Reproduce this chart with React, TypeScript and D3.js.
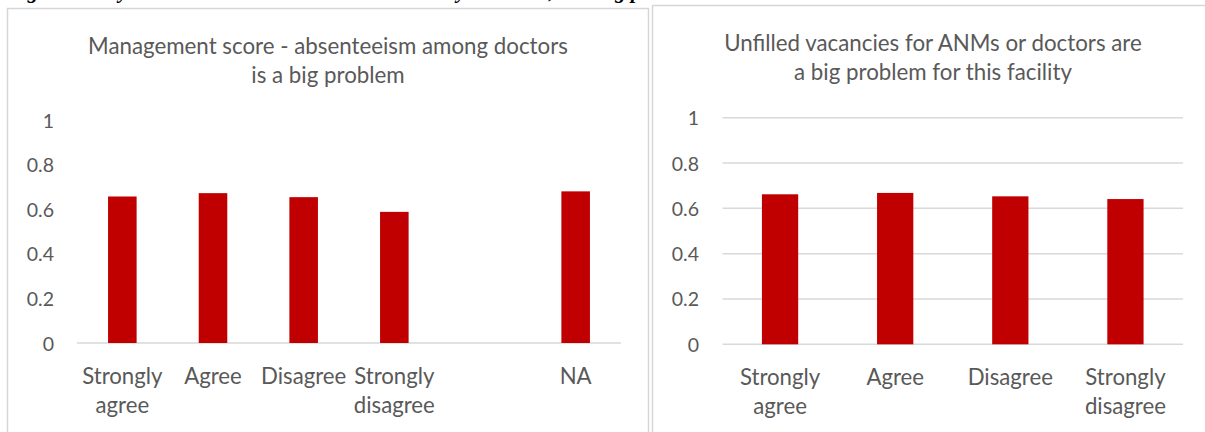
import React from "react";
import * as d3 from "d3";

// Left panel: management score by response on doctor absenteeism
const absCategories = ["Strongly agree", "Agree", "Disagree", "Strongly disagree", "", "NA"];
const absValues: (number | null)[] = [0.657, 0.672, 0.654, 0.588, null, 0.68];

// Right panel: management score by response on unfilled vacancies
const vacCategories = ["Strongly agree", "Agree", "Disagree", "Strongly disagree"];
const vacValues = [0.662, 0.668, 0.653, 0.641];

const yTicks = [0, 0.2, 0.4, 0.6, 0.8, 1];
const absTitle = ["Management score - absenteeism among doctors", "is a big problem"];
const vacTitle = ["Unfilled vacancies for ANMs or doctors are", "a big problem for this facility"];
const caption = "Figure 6: Key health worker issues and MS: are they a serious, or a big problem";

const W = 1205;
const H = 432;
const BAR = "#C00000";
const TEXT = "#595959";
const GRID = "#D9D9D9";
const BORDER = "#D6D6D6";
const FONT = "Lato, 'Open Sans', sans-serif";

type PanelProps = {
  categories: string[];
  values: (number | null)[];
  title: string[];
  x0: number;
  x1: number;
  yZero: number;
  yOne: number;
  tickRight: number;
  titleX: number;
  titleY: number;
  grid: boolean;
};

function wrapLabel(s: string): string[] {
  if (s.startsWith("Strongly ")) return ["Strongly", s.slice(9)];
  return [s];
}

function Panel(p: PanelProps) {
  const x = d3
    .scaleBand<string>()
    .domain(p.categories.map((c, i) => `${i}`))
    .range([p.x0, p.x1])
    .paddingInner(0.685)
    .paddingOuter(0.3425);
  const y = d3.scaleLinear().domain([0, 1]).range([p.yZero, p.yOne]);

  return (
    <g>
      {p.title.map((t, i) => (
        <text
          key={i}
          x={p.titleX}
          y={p.titleY + i * 29}
          textAnchor="middle"
          dominantBaseline="central"
          fontSize={22.3}
          fill={TEXT}
          fontFamily={FONT}
        >
          {t}
        </text>
      ))}
      {yTicks.map((t) => (
        <g key={t}>
          {p.grid && t > 0 && (
            <line x1={p.x0} x2={p.x1} y1={y(t)} y2={y(t)} stroke={GRID} strokeWidth={1.5} />
          )}
          <text
            x={p.tickRight}
            y={y(t)}
            textAnchor="end"
            dominantBaseline="central"
            fontSize={19.5}
            fill={TEXT}
            fontFamily={FONT}
          >
            {d3.format("~g")(t)}
          </text>
        </g>
      ))}
      <line x1={p.x0} x2={p.x1} y1={y(0)} y2={y(0)} stroke={GRID} strokeWidth={1.5} />
      {p.values.map((v, i) =>
        v == null ? null : (
          <rect
            key={i}
            x={x(`${i}`)!}
            y={y(v)}
            width={x.bandwidth()}
            height={y(0) - y(v)}
            fill={BAR}
          />
        )
      )}
      {p.categories.map((c, i) =>
        wrapLabel(c).map((line, j) => (
          <text
            key={`${i}-${j}`}
            x={x(`${i}`)! + x.bandwidth() / 2}
            y={y(0) + 32 + j * 29}
            textAnchor="middle"
            dominantBaseline="central"
            fontSize={22.2}
            fill={TEXT}
            fontFamily={FONT}
          >
            {line}
          </text>
        ))
      )}
    </g>
  );
}

export default function App() {
  return (
    <div style={{ position: "fixed", left: 0, top: 0 }}>
      <svg width={W} height={H} style={{ display: "block", background: "#fff" }}>
        <text
          x={8}
          y={-2}
          fontFamily="'Liberation Serif', 'Times New Roman', serif"
          fontWeight="bold"
          fontStyle="italic"
          fontSize={21}
          fill="#000"
        >
          {caption}
        </text>
        <rect x={7.5} y={8.5} width={641} height={440} fill="#fff" stroke={BORDER} strokeWidth={1.5} />
        <rect x={652.5} y={5.5} width={600} height={440} fill="#fff" stroke={BORDER} strokeWidth={1.5} />
        <Panel
          categories={absCategories}
          values={absValues}
          title={absTitle}
          x0={77}
          x1={621}
          yZero={343}
          yOne={120}
          tickRight={54}
          titleX={328}
          titleY={45}
          grid={false}
        />
        <Panel
          categories={vacCategories}
          values={vacValues}
          title={vacTitle}
          x0={722.5}
          x1={1183}
          yZero={344.3}
          yOne={117.7}
          tickRight={699}
          titleX={933}
          titleY={42}
          grid={true}
        />
      </svg>
    </div>
  );
}
